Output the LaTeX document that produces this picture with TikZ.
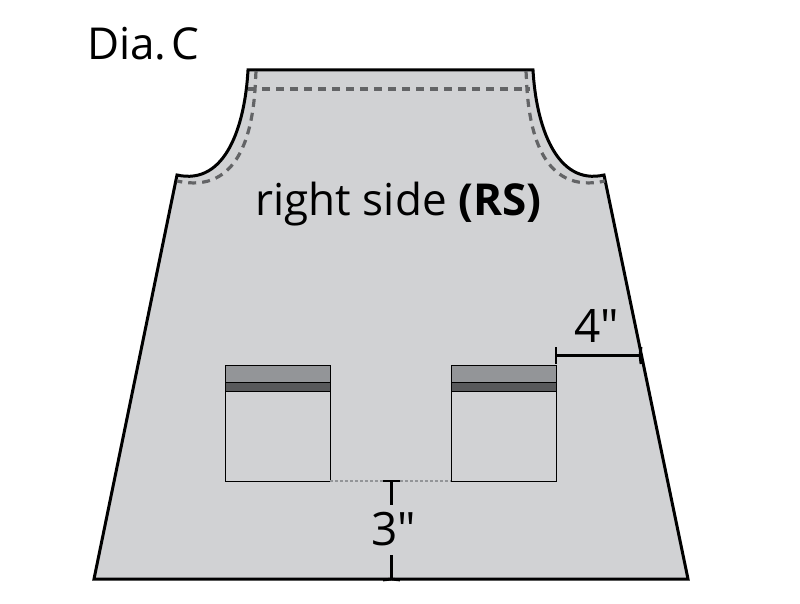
\documentclass[tikz,border=0pt]{standalone}
\usepackage{fontspec}
\setmainfont{Open Sans}
\newfontfamily\dimfont{Open Sans}
\usepackage{xcolor}
\usepackage{tikz}
\definecolor{apronfill}{RGB}{209,210,212}
\definecolor{bandlight}{RGB}{147,149,152}
\definecolor{banddark}{RGB}{88,89,91}
\definecolor{stitchgray}{RGB}{99,100,102}
\tikzset{
    panel/.style={draw=black,line width=3pt,fill=apronfill,line join=miter},
    stitch/.style={draw=stitchgray,line width=3.2pt,dash pattern=on 8pt off 6pt},
    pocket/.style={draw=black,line width=1pt,fill=apronfill,minimum width=105pt,minimum height=116pt,inner sep=0pt,outer sep=0pt},
    hem/.style={draw=black,line width=1pt,fill=bandlight,minimum width=105pt,minimum height=17pt,inner sep=0pt,outer sep=0pt,anchor=north west},
    fold/.style={draw=black,line width=1pt,fill=banddark,minimum width=105pt,minimum height=9pt,inner sep=0pt,outer sep=0pt,anchor=north west},
    measure/.style={draw=black,line width=2.8pt},
    label/.style={inner sep=0pt,font=\fontsize{44}{44}\selectfont},
    dimlabel/.style={inner sep=0pt,anchor=base,font=\fontsize{46}{46}\dimfont}
}
\begin{document}
\begin{tikzpicture}[x=1pt,y=-1pt]
    \useasboundingbox (0,0) rectangle (800,604);

    % apron
    \draw[panel] (248,70) -- (533,70)
        .. controls (536,125) and (556,186) .. (604,175)
        -- (688,579) -- (94,579) -- (177,175)
        .. controls (226,186) and (245,125) .. (248,70) -- cycle;

    % stitching
    \draw[stitch] (248,89) -- (530,89);
    \draw[stitch] (256,71) -- (255,90)
        .. controls (252,130) and (240,195) .. (177,181);
    \draw[stitch] (526,71) -- (527,90)
        .. controls (530,130) and (542,195) .. (605,181);

    % pockets
    \node[pocket] (leftpocket) at (277.5,423) {};
    \node[pocket] (rightpocket) at (503.5,423) {};
    \node[hem] (lefthem) at (leftpocket.north west) {};
    \node[fold] (leftfold) at (lefthem.south west) {};
    \node[hem] (righthem) at (rightpocket.north west) {};
    \node[fold] (rightfold) at (righthem.south west) {};

    \draw[draw=bandlight,line width=2.4pt,dash pattern=on 2.5pt off 2.5pt]
        (leftpocket.south east) -- (rightpocket.south west);

    % measures
    \coordinate (gaptop) at (391.5,481);
    \coordinate (gapbottom) at (391.5,579);
    \coordinate (sideleft) at (556,355.5);
    \coordinate (sideright) at (640,355.5);

    \node[dimlabel] (threein) at (393.5,545) {3"};
    \node[dimlabel] (fourin) at (596.5,342) {4"};
    \coordinate (threetop) at (391.5,505);
    \coordinate (threebottom) at (391.5,555);

    \draw[measure] (gaptop) -- (threetop);
    \draw[measure] (threebottom) -- (gapbottom);
    \draw[measure] (383,481) -- (gaptop) -- (400,481);
    \draw[measure] (383,580) -- (gapbottom) -- (400,580);
    \draw[measure] (sideleft) -- (sideright);
    \draw[measure] (556,347) -- (sideleft) -- (556,364);
    \draw[measure] (641,347) -- (sideright) -- (641,364);

    % text
    \node[label,anchor=base west] (diatitle) at (87,60) {Dia.\hspace{5pt}C};
    \node[label,anchor=base] (sidelabel) at (398.5,215) {right side \textbf{(RS)}};
\end{tikzpicture}
\end{document}
